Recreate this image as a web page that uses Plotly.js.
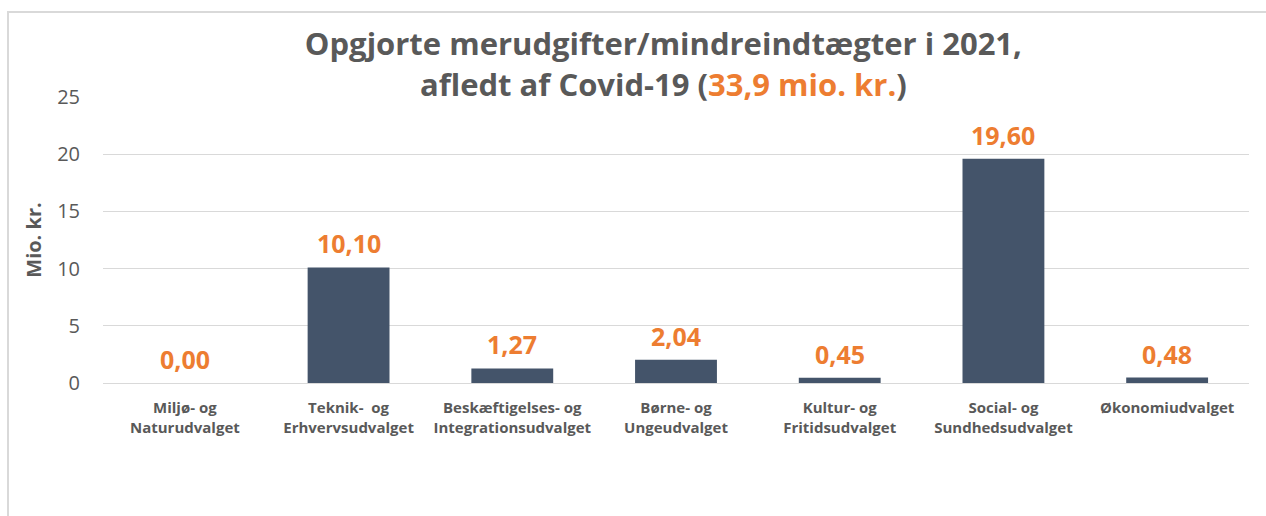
<!DOCTYPE html>
<html><head><meta charset="utf-8">
<script src="https://cdn.plot.ly/plotly-3.0.1.min.js"></script>
<style>
html,body{margin:0;padding:0;background:#fff;}
#frame{position:absolute;left:7px;top:11px;width:1259px;height:505px;border-left:2px solid #d9d9d9;border-top:2px solid #d9d9d9;box-sizing:border-box;}
#chart{position:absolute;left:0;top:0;width:1266px;height:516px;}
</style></head>
<body>
<div id="frame"></div>
<div id="chart"></div>
<script>
const categories = ["Miljø- og<br>Naturudvalget","Teknik-  og<br>Erhvervsudvalget","Beskæftigelses- og<br>Integrationsudvalget","Børne- og<br>Ungeudvalget","Kultur- og<br>Fritidsudvalget","Social- og<br>Sundhedsudvalget","Økonomiudvalget"];
const values = [0.00, 10.10, 1.27, 2.04, 0.45, 19.60, 0.48];
const valueLabels = ["0,00","10,10","1,27","2,04","0,45","19,60","0,48"];
const yTicks = [0,5,10,15,20,25];

const FONT = '"Open Sans", "Noto Sans", sans-serif';
const annotations = categories.map((c,i)=>({
  x: c, y: values[i], xref:'x', yref:'y', text: '<b>'+valueLabels[i]+'</b>',
  showarrow:false, yanchor:'bottom', yshift: 5,
  font:{family:FONT, size:25, color:'#ED7D31'}
}));

const trace = {
  type:'bar', x: categories, y: values,
  marker:{color:'#44546A'}, width:0.5, hoverinfo:'none'
};
const layout = {
  width:1266, height:516,
  paper_bgcolor:'rgba(0,0,0,0)', plot_bgcolor:'rgba(0,0,0,0)',
  margin:{l:103, r:17, t:97, b:133},
  showlegend:false,
  title:{
    text:'<b>Opgjorte merudgifter/mindreindtægter i 2021,<br>afledt af Covid-19 (<span style="color:#ED7D31">33,9 mio. kr.</span>)</b>',
    x:0.524, xref:'container', xanchor:'center', y:0.893, yref:'container', yanchor:'middle',
    font:{family:FONT, size:31, color:'#595959'}
  },
  xaxis:{
    type:'category', showgrid:false, zeroline:false, showline:false, ticks:'',
    tickfont:{family:FONT, size:15, color:'#595959', weight:'bold'},
    tickangle:0, ticklabelstandoff:14
  },
  yaxis:{
    range:[0,25], tickvals:yTicks, ticktext:yTicks.map(String),
    showgrid:true, gridcolor:'#d9d9d9', gridwidth:1, zeroline:true, zerolinecolor:'#d9d9d9', zerolinewidth:1,
    showline:false, ticks:'', ticklabelstandoff:22,
    tickfont:{family:FONT, size:20, color:'#595959'},
    title:{text:'<b>Mio. kr.</b>', font:{family:FONT, size:20, color:'#595959'}, standoff:10}
  },
  annotations: annotations
};
Plotly.newPlot('chart',[trace],layout,{displayModeBar:false, staticPlot:true});
</script>
</body></html>
